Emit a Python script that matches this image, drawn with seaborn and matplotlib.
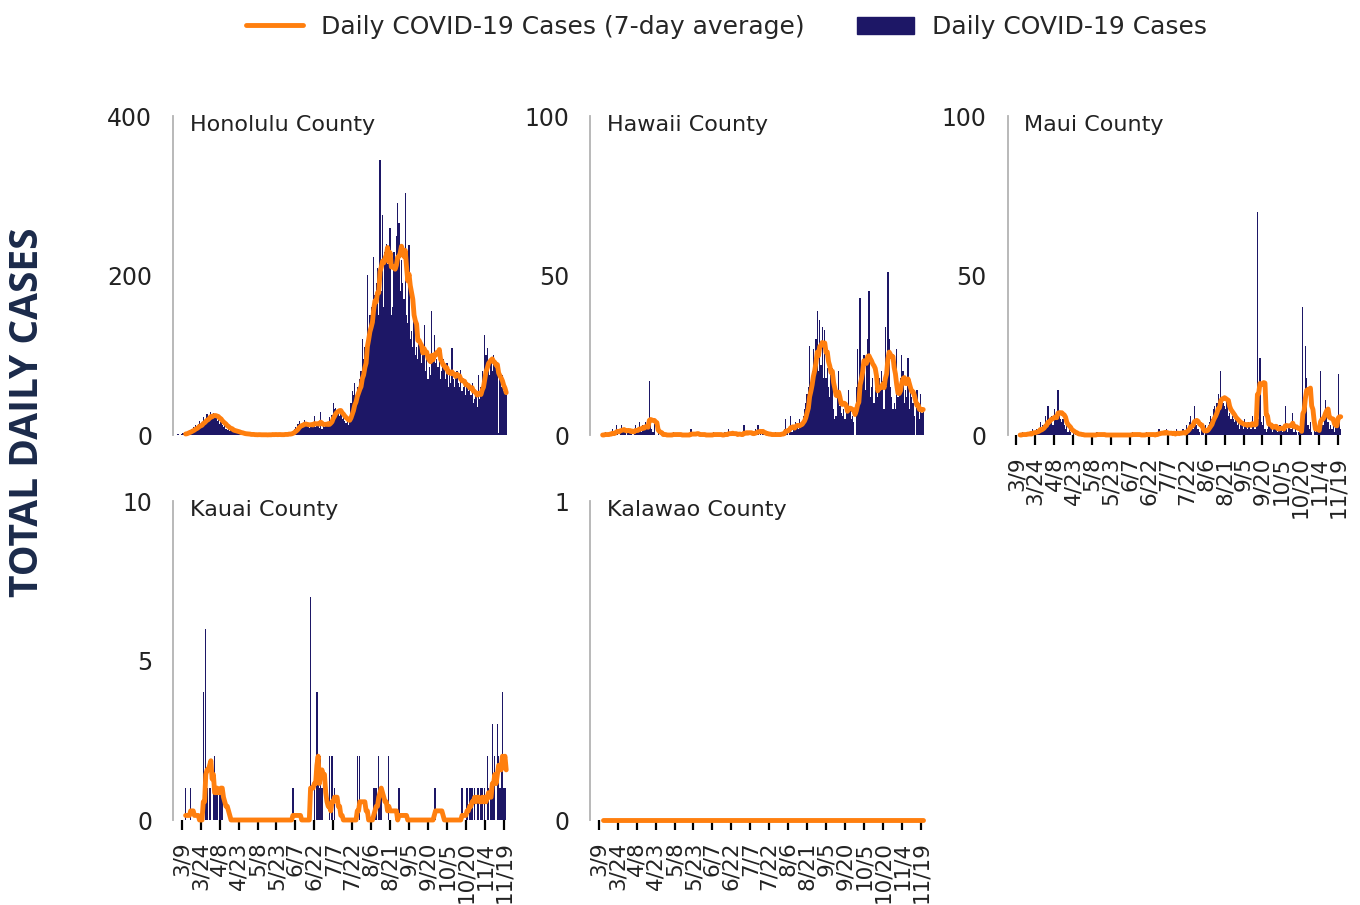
import numpy as np
import pandas as pd
import matplotlib
matplotlib.use("Agg")
import matplotlib.pyplot as plt
from matplotlib.lines import Line2D
from matplotlib.patches import Patch
import seaborn as sns

# ---------------- data ----------------
start_date = "2020-03-06"
end_date = "2020-11-21"
base_date = "2020-03-09"

tick_labels = ["3/9", "3/24", "4/8", "4/23", "5/8", "5/23", "6/7", "6/22", "7/7",
               "7/22", "8/6", "8/21", "9/5", "9/20", "10/5", "10/20", "11/4", "11/19"]

counties = ["Honolulu County", "Hawaii County", "Maui County", "Kauai County", "Kalawao County"]

honolulu = [1,0,0,1,2,3,2, 3,4,6,5,8,10,7, 12,9,14,17,11,15,23, 18,20,26,22,24,29,20,
            28,22,25,18,20,14,16, 12,10,16,8,6,7,5, 6,7,4,5,3,4,2, 2,1,3,1,0,2,1,
            1,0,0,1,0,0,1, 0,1,0,0,0,0,1, 0,0,1,0,0,2,0, 1,0,0,1,0,1,0,
            1,2,0,1,3,1,2, 5,8,10,9,14,17,12, 13,10,19,12,11,15,9, 14,11,16,24,10,13,12,
            9,29,8,12,10,14,11, 16,22,18,25,40,33,34, 28,30,24,26,20,22,18,
            15,20,12,22,40,55,50, 65,45,60,55,70,80,121, 95,110,100,200,130,150,160,
            140,223,175,190,210,150,345, 180,276,160,230,240,215,220,
            260,150,160,230,220,250,291, 266,180,220,190,170,303,150,
            140,238,120,130,110,165,100, 110,95,120,105,90,100,138,
            80,95,70,85,75,155,100, 125,90,95,85,100,70,80, 95,85,70,90,60,75,65,
            109,70,60,75,80,65,60, 81,55,60,70,50,65,55, 60,50,65,40,45,55,35,
            75,45,60,80,70,125,100, 109,85,75,94,80,100,94, 85,90,2,70,60,75,55, 60,50]

hawaii = [0,0,0,0,0,0,0, 0,1,0,0,0,1,0, 2,0,1,3,1,0,2, 3,1,2,1,0,1,2,
          1,2,0,1,3,1,2, 4,2,1,3,2,4,3, 2,17,3,2,1,4,0, 0,1,0,0,0,0,0,
          0,0,0,0,0,0,1, 0,0,0,0,0,0,0, 0,0,0,0,0,0,2, 0,0,0,0,1,0,0,
          0,0,0,0,0,0,0, 0,0,0,1,0,0,0, 0,0,0,0,0,1,0, 0,2,0,0,1,0,0,
          0,0,1,0,0,0,3, 0,1,0,1,0,0,1, 0,2,1,3,0,1,0, 1,0,0,1,0,0,0,
          0,0,0,1,0,0,0, 0,1,0,2,5,1,0, 2,6,1,3,2,4,3, 2,5,3,4,6,8,10,
          13,15,28,16,20,27,22, 30,39,20,36,22,34,18, 33,18,21,15,12,20,21,
          8,5,6,14,20,9,7, 6,8,5,10,7,14,9, 5,6,4,0,15,27,15,
          43,18,20,25,14,22,30, 45,12,15,18,10,16,14, 12,18,15,20,17,8,34,
          22,51,30,15,12,8,10, 8,27,12,14,18,25,20, 10,14,12,24,8,15,12,
          10,6,0,14,9,5,13, 7,8]

maui = [0,0,0,0,0,0,0, 0,1,0,0,0,1,0, 1,0,2,1,0,2,1, 2,4,1,3,2,6,3,
        9,4,5,6,3,8,5, 7,14,6,5,4,5,3, 2,3,1,2,1,0,1, 0,1,0,0,0,0,0,
        0,0,0,0,0,0,0, 0,0,0,0,1,0,0, 0,0,0,0,0,0,0, 0,0,0,0,0,0,0,
        0,0,0,0,0,0,0, 0,0,0,0,1,0,0, 0,0,0,0,0,0,0, 0,1,0,0,0,0,0,
        0,0,1,0,2,0,1, 0,1,0,2,0,0,1, 0,0,1,0,2,0,0, 1,0,2,0,1,3,2,
        4,6,3,2,9,5,3, 2,1,0,2,1,0,3, 2,3,4,6,5,8,9, 7,10,13,8,20,12,10,
        9,8,11,6,7,5,6, 5,4,6,3,4,2,3, 4,2,5,3,2,4,3, 2,6,3,2,3,70,5,
        24,4,3,6,2,1,2, 6,3,2,1,2,3,2, 1,2,3,2,1,2,9, 2,1,3,2,2,7,1,
        2,1,0,1,2,1,40, 8,28,18,3,2,4,1, 0,2,1,3,2,1,20, 5,3,6,11,8,4,2,
        3,2,5,1,4,3,19, 6,2]

kauai = [0,0,0,0,0,0,1, 0,0,0,1,0,0,0, 0,0,0,0,0,0,4, 0,6,1,0,1,1,0,
         1,2,1,1,0,1,1, 1,0,0,0,0,0,0, 0,0,0,0,0,0,0, 0,0,0,0,0,0,0,
         0,0,0,0,0,0,0, 0,0,0,0,0,0,0, 0,0,0,0,0,0,0, 0,0,0,0,0,0,0,
         0,0,0,0,0,0,0, 1,0,0,0,0,0,0, 0,0,0,0,0,0,0, 7,0,0,1,0,4,2,
         1,2,1,0,0,0,0, 0,2,0,2,0,1,0, 0,0,0,0,0,0,0, 0,0,0,0,0,0,0,
         0,0,2,0,2,0,0, 0,0,0,0,0,0,0, 0,1,1,1,0,2,1, 1,0,0,0,0,0,2,
         0,0,0,0,0,0,0, 1,0,0,0,0,0,0, 0,0,0,0,0,0,0, 0,0,0,0,0,0,0,
         0,0,0,0,0,0,0, 1,1,0,0,0,0,0, 0,0,0,0,0,0,0, 0,0,0,0,0,0,0,
         0,1,0,0,0,1,0, 1,1,1,0,1,0,1, 1,0,1,1,0,1,0, 2,1,0,1,3,1,2,
         0,3,2,1,2,4,1, 1,0]

kalawao = [0] * 261

y_max = [400, 100, 100, 10, 1]
y_ticks = [[0, 200, 400], [0, 50, 100], [0, 50, 100], [0, 5, 10], [0, 1]]

# ---------------- build frame ----------------
dates = pd.date_range(start_date, end_date, freq="D")
base = pd.Timestamp(base_date)
day = (dates - base).days
series = [honolulu, hawaii, maui, kauai, kalawao]
frames = []
for name, vals in zip(counties, series):
    d = pd.DataFrame({"county": name, "day": day, "cases": np.array(vals, float)})
    d["avg"] = d["cases"].rolling(7).mean()
    frames.append(d)
df = pd.concat(frames, ignore_index=True)

tick_pos = [(pd.Timestamp("2020-" + lbl.replace("/", "-")) - base).days for lbl in tick_labels]

# ---------------- style ----------------
sns.set_style("white")
plt.rcParams["font.family"] = ["DejaVu Sans"]

NAVY = "#1d1766"
ORANGE = "#ff7f0e"
SPINE = "#b3b3b3"

fig = plt.figure(figsize=(13.6, 9.05), dpi=100)

W = 337 / 1360
H = 319 / 905
lefts = [173 / 1360, 590 / 1360, 1007.5 / 1360]
bottoms = [1 - 435 / 905, 1 - 820 / 905]
positions = [(0, 0), (0, 1), (0, 2), (1, 0), (1, 1)]
show_x = [False, False, True, True, True]

for i, name in enumerate(counties):
    r, c = positions[i]
    ax = fig.add_axes([lefts[c], bottoms[r], W, H])
    sub = df[df["county"] == name]
    sns.histplot(data=sub, x="day", weights="cases", discrete=True, shrink=1.0,
                 color=NAVY, alpha=1, linewidth=0, ax=ax)
    sns.lineplot(data=sub.dropna(), x="day", y="avg", color=ORANGE, linewidth=3.5, ax=ax)
    for ln in ax.lines:
        ln.set_clip_on(False)
    ax.set_xlim(-7, 260)
    ax.set_ylim(0, y_max[i])
    ax.set_yticks(y_ticks[i])
    ax.set_xlabel("")
    ax.set_ylabel("")
    for s in ["top", "right", "bottom"]:
        ax.spines[s].set_visible(False)
    ax.spines["left"].set_color(SPINE)
    ax.spines["left"].set_linewidth(1.3)
    ax.tick_params(axis="y", length=5, width=1.2, color=SPINE, labelsize=17, pad=10,
                   labelcolor="#222222")
    if show_x[i]:
        ax.set_xticks(tick_pos)
        ax.set_xticklabels(tick_labels, rotation=90)
        ax.tick_params(axis="x", bottom=True, length=7.5, width=1.6, color="black",
                       labelsize=15.5, pad=8, labelcolor="#222222")
    else:
        ax.set_xticks([])
    ax.text(0.05, 0.972, name, transform=ax.transAxes, fontsize=16, ha="left", va="center",
            color="#222222")

handles = [Line2D([0], [0], color=ORANGE, lw=3.5), Patch(facecolor=NAVY, edgecolor=NAVY)]
fig.legend(handles, ["Daily COVID-19 Cases (7-day average)", "Daily COVID-19 Cases"],
           loc="center", bbox_to_anchor=(0.534, 0.97), ncol=2, frameon=False,
           fontsize=18, handlelength=2.3, columnspacing=2.1, handletextpad=0.7)

fig.text(0.02, 0.545, "TOTAL DAILY CASES", rotation=90, fontsize=28, fontweight="bold",
         family=["Open Sans", "DejaVu Sans"], color="#1b2a4a", ha="center", va="center")

fig.savefig("out.png", dpi=100, facecolor="white")
